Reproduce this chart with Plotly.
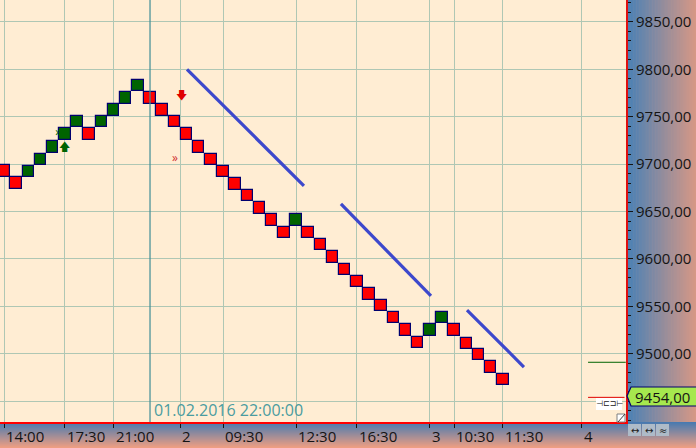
import plotly.graph_objects as go

W, H = 696, 448
PL_R, PL_B = 626, 422

brick_index = list(range(42))
brick_mid = [9693, 9680, 9692, 9705, 9718, 9732, 9745, 9732, 9745, 9757, 9770, 9783,
             9770, 9757, 9745, 9732, 9718, 9705, 9692, 9679, 9667, 9654, 9641, 9628,
             9641, 9628, 9615, 9602, 9589, 9576, 9563, 9551, 9538, 9525, 9512, 9525,
             9538, 9525, 9511, 9499, 9486, 9473]
brick_up = [0, 0, 1, 1, 1, 1, 1, 0, 1, 1, 1, 1,
            0, 0, 0, 0, 0, 0, 0, 0, 0, 0, 0, 0,
            1, 0, 0, 0, 0, 0, 0, 0, 0, 0, 0, 1,
            1, 0, 0, 0, 0, 0]
brick_size = 12.2

tick_pos = [0, 5, 9, 14.5, 18, 24, 29, 35, 37, 41, 47.5]
tick_text = ["14:00", "17:30", "21:00", "2", "09:30", "12:30", "16:30", "3", "10:30", "11:30", "4"]
price_ticks = [9450, 9500, 9550, 9600, 9650, 9700, 9750, 9800, 9850]
price_text = ["", "9500,00", "9550,00", "9600,00", "9650,00", "9700,00", "9750,00", "9800,00", "9850,00"]

trend_x = [[15.04, 24.65], [27.69, 35.09], [38.05, 42.73]]
trend_y = [[9800, 9677], [9658, 9561], [9546, 9486]]
cursor_x = 12.0
last_price = 9454
x_range = [-0.33, 51.12]
y_range = [9428, 9873.1]


def bricks(flag):
    idx = [i for i, u in zip(brick_index, brick_up) if u == flag]
    return idx, [brick_mid[i] - brick_size / 2 for i in idx]


def gradient(x0, x1, y0, y1, c0, c1, horizontal, steps=48):
    out = []
    for k in range(steps):
        t = k / (steps - 1)
        col = "rgb(%d,%d,%d)" % tuple(round(a + (b - a) * t) for a, b in zip(c0, c1))
        if horizontal:
            a0, a1, b0, b1 = x0 + (x1 - x0) * k / steps, x0 + (x1 - x0) * (k + 1) / steps + 0.5, y0, y1
        else:
            a0, a1, b0, b1 = x0, x1, y0 + (y1 - y0) * k / steps, y0 + (y1 - y0) * (k + 1) / steps + 0.5
        out.append(dict(type="rect", xref="paper", yref="paper", layer="below",
                        x0=a0 / PL_R, x1=a1 / PL_R,
                        y0=(PL_B - b0) / PL_B, y1=(PL_B - b1) / PL_B,
                        fillcolor=col, line_width=0))
    return out


def px_rect(x0, y0, x1, y1, fill, line=None, layer="above"):
    return dict(type="rect", xref="paper", yref="paper", layer=layer,
                x0=x0 / PL_R, x1=x1 / PL_R, y0=(PL_B - y0) / PL_B, y1=(PL_B - y1) / PL_B,
                fillcolor=fill, line=dict(color=line or fill, width=1 if line else 0))


fig = go.Figure()
for flag, col in ((0, "#FF0000"), (1, "#006400")):
    xs, bases = bricks(flag)
    fig.add_trace(go.Bar(x=xs, y=[brick_size] * len(xs), base=bases, width=0.94,
                         marker=dict(color=col, line=dict(color="#00006E", width=1.2))))
for tx, ty in zip(trend_x, trend_y):
    fig.add_trace(go.Scatter(x=tx, y=ty, mode="lines", line=dict(color="#3D48CC", width=3.2)))

fig.add_trace(go.Scatter(x=[5], y=[9717], mode="text", text=["🡅"],
                         textfont=dict(family="DejaVu Sans", size=11, color="#006400")))
fig.add_trace(go.Scatter(x=[14.6], y=[9772], mode="text", text=["🡇"],
                         textfont=dict(family="DejaVu Sans", size=11, color="#E00000")))
fig.add_trace(go.Scatter(x=[4.45], y=[9733], mode="text", text=["»"],
                         textfont=dict(size=12, color="#006400")))
fig.add_trace(go.Scatter(x=[14.05], y=[9705], mode="text", text=["»"],
                         textfont=dict(size=12, color="#D03030")))
fig.add_trace(go.Scatter(x=[48, 51.1], y=[9491, 9491], mode="lines", line=dict(color="#006400", width=1)))
fig.add_trace(go.Scatter(x=[48, 51], y=[last_price, last_price], mode="lines", line=dict(color="#E00000", width=1)))

shapes = []
shapes += gradient(0, W, PL_B, H, (72, 122, 176), (238, 158, 130), False, 26)
shapes += gradient(PL_R, W, 0, PL_B, (72, 128, 182), (214, 152, 134), True)
shapes.append(dict(type="line", xref="x", yref="paper", x0=cursor_x, x1=cursor_x, y0=0, y1=1,
                   line=dict(color="#3E8E96", width=1.2)))
shapes.append(px_rect(596, 398, 622, 410, "#FFFFFF"))
shapes.append(px_rect(617, 414, 625, 422, "#FFFFFF", "#808080"))
shapes.append(dict(type="line", xref="paper", yref="paper", x0=618 / PL_R, x1=625 / PL_R,
                   y0=(PL_B - 422) / PL_B, y1=(PL_B - 414) / PL_B, line=dict(color="#404040", width=1)))
for bx in (628, 642, 656):
    shapes.append(px_rect(bx, 424, bx + 13, 436, "#AEBBC8"))
tag = ("M %f %f L %f %f L %f %f L %f %f L %f %f L %f %f Z" % (
    627 / PL_R, (PL_B - 396) / PL_B, 631 / PL_R, (PL_B - 387) / PL_B, 700 / PL_R, (PL_B - 387) / PL_B,
    700 / PL_R, (PL_B - 406) / PL_B, 631 / PL_R, (PL_B - 406) / PL_B, 627 / PL_R, (PL_B - 396) / PL_B))
shapes.append(dict(type="path", xref="paper", yref="paper", path=tag, fillcolor="#A6E84E",
                   line=dict(color="#000070", width=1.2)))

ann = []
LF = "Open Sans"
FS = 15
for p, t in zip(tick_pos, tick_text):
    ann.append(dict(x=p, y=(PL_B - 436) / PL_B, xref="x", yref="paper", text=t, showarrow=False,
                    xanchor="left", yanchor="middle", xshift=0, align="left",
                    font=dict(family=LF, size=FS, color="#141414")))
ann.append(dict(x=152 / PL_R, y=(PL_B - 410) / PL_B, xref="paper", yref="paper",
                text="01.02.2016 22:00:00", showarrow=False, xanchor="left", yanchor="middle",
                font=dict(family=LF, size=16, color="#4A9CA0")))
ann.append(dict(x=633 / PL_R, y=(PL_B - 396.5) / PL_B, xref="paper", yref="paper",
                text="9454,00", showarrow=False, xanchor="left", yanchor="middle",
                font=dict(family=LF, size=FS, color="#141414")))
ann.append(dict(x=609 / PL_R, y=(PL_B - 403.5) / PL_B, xref="paper", yref="paper",
                text="⊣⊏⊐⊢", showarrow=False, xanchor="center", yanchor="middle",
                font=dict(family="DejaVu Sans", size=8, color="#202020")))
for bx, s in ((634.5, "↔"), (648.5, "↔"), (662.5, "≈")):
    ann.append(dict(x=bx / PL_R, y=(PL_B - 430) / PL_B, xref="paper", yref="paper", text=s,
                    showarrow=False, xanchor="center", yanchor="middle",
                    font=dict(family="DejaVu Sans", size=10, color="#202020")))

fig.update_layout(
    width=W, height=H, autosize=False, showlegend=False, barmode="overlay", bargap=0,
    margin=dict(l=0, r=W - PL_R, t=0, b=H - PL_B),
    paper_bgcolor="#D0A090", plot_bgcolor="#FFEDD3",
    shapes=shapes, annotations=ann,
    xaxis=dict(range=x_range, tickmode="array", tickvals=tick_pos, ticktext=[""] * len(tick_pos),
               showgrid=True, gridcolor="#AFC7B4", gridwidth=1.4, zeroline=False,
               ticks="outside", ticklen=4, tickcolor="#141414", tickwidth=1,
               showline=True, linecolor="#FF0000", linewidth=2),
    yaxis=dict(range=y_range, side="right", tickmode="array", tickvals=price_ticks, ticktext=price_text,
               showgrid=True, gridcolor="#AFC7B4", gridwidth=1.4, zeroline=False,
               ticks="outside", ticklen=5, tickcolor="#141414", tickwidth=1,
               tickfont=dict(family=LF, size=FS, color="#141414"),
               minor=dict(dtick=10, ticks="outside", ticklen=3, tickcolor="#141414", showgrid=False),
               showline=True, linecolor="#E01010", linewidth=2),
)
fig.write_html("out.html", config=dict(displayModeBar=False),
               post_script="document.documentElement.style.overflow='hidden';document.body.style.margin='0';")
